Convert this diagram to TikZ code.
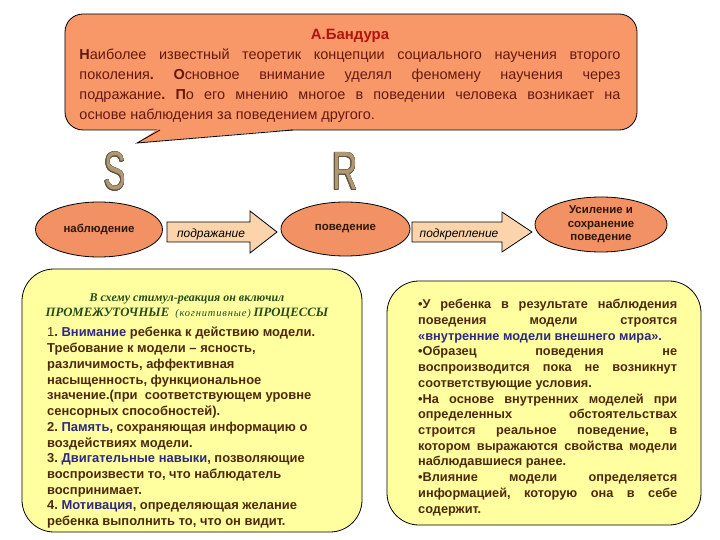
\documentclass[tikz,border=0pt]{standalone}
\usepackage{fontspec}
\setmainfont{Liberation Sans}
\newfontfamily\serifit{Liberation Serif}
\newfontfamily\serifsp[LetterSpace=8]{Liberation Serif}
\usepackage{contour}
\usetikzlibrary{shapes.geometric}
\definecolor{calloutfill}{RGB}{248,152,105}
\definecolor{ellfill}{RGB}{242,146,100}
\definecolor{arrfill}{RGB}{251,212,172}
\definecolor{yfill}{RGB}{255,255,160}
\definecolor{titlered}{RGB}{175,20,15}
\definecolor{bodyred}{RGB}{100,25,15}
\definecolor{txtbrown}{RGB}{78,40,12}
\definecolor{txtdark}{RGB}{45,22,10}
\definecolor{kwblue}{RGB}{45,40,130}
\definecolor{hdrgreen}{RGB}{35,75,25}
\definecolor{letterfill}{RGB}{176,152,112}
\definecolor{letterline}{RGB}{95,82,68}
\contourlength{0.4bp}
\frenchspacing
\begin{document}
\begin{tikzpicture}[x=1bp,y=-1bp,
  boxline/.style={draw=black, line width=0.8bp},
  ellnode/.style={ellipse, boxline, fill=ellfill, inner sep=0pt},
  elltext/.style={font=\fontsize{11.5}{13.6}\selectfont\bfseries, text=txtdark, align=center, inner sep=0pt},
  arrowbox/.style={boxline, fill=arrfill},
  arrtext/.style={font=\fontsize{12}{14}\selectfont\itshape, text=black, inner sep=0pt},
  ybox/.style={boxline, fill=yfill, rounded corners=32bp, inner sep=0pt},
  letter/.style={font=\fontsize{54}{54}\selectfont, inner sep=0pt, anchor=base},
  bodytext/.style={font=\fontsize{13}{15.8}\selectfont\bfseries, text=txtbrown, align=left, inner sep=0pt, anchor=north west}
]
\useasboundingbox (0,0) rectangle (720,540);

% callout
\node[boxline, fill=calloutfill, rounded corners=18bp, minimum width=572bp, minimum height=116bp, inner sep=0pt] (bandura) at (351,72) {};
\fill[calloutfill] (158,129) -- (137,143) -- (296,129) -- cycle;
\draw[line width=0.8bp] (160,130) -- (137,143) -- (293,130);
\node[font=\fontsize{14.5}{20}\selectfont, text=bodyred, align=left, inner sep=0pt, anchor=north] (bandtext) at (350,29.5) {%
\makebox[541bp][c]{\fontsize{15}{20}\selectfont\bfseries\color{titlered}А.Бандура}\\
\makebox[541bp][s]{\textbf{Н}аиболее известный теоретик концепции социального научения второго}\\
\makebox[541bp][s]{поколения\textbf{.} \textbf{О}сновное внимание уделял феномену научения через}\\
\makebox[541bp][s]{подражание\textbf{.} \textbf{П}о его мнению многое в поведении человека возникает на}\\
\makebox[541bp][l]{основе наблюдения за поведением другого.}};

% S and R
\node[letter] (S) at (115,190) {\contour{letterline}{\textcolor{letterfill}{\scalebox{0.6}[1]{S}}}};
\node[letter] (R) at (345,190) {\contour{letterline}{\textcolor{letterfill}{\scalebox{0.66}[1]{R}}}};

% ellipses
\node[ellnode, minimum width=127bp, minimum height=55bp] (obs) at (99,229.5) {};
\node[elltext] (obstext) at (obs) {наблюдение};
\node[ellnode, minimum width=129bp, minimum height=54bp] (beh) at (345.5,229) {};
\node[elltext] (behtext) at (beh) {поведение};
\node[ellnode, minimum width=132bp, minimum height=55bp] (rein) at (601,224.5) {};
\node[elltext] (reintext) at (rein) {Усиление и\\сохранение\\поведение};

% block arrows
\path[arrowbox] (167,222) -- (250,222) -- (250,211) -- (277,232) -- (250,253) -- (250,242) -- (167,242) -- cycle;
\node[arrtext] (imit) at (211,234) {подражание};
\path[arrowbox] (412,222) -- (502,222) -- (502,212) -- (532,232) -- (502,252) -- (502,242) -- (412,242) -- cycle;
\node[arrtext] (reinf) at (459,234) {подкрепление};

% yellow boxes
\node[ybox, minimum width=340bp, minimum height=263bp] (leftbox) at (192,400.5) {};
\node[ybox, minimum width=314bp, minimum height=244bp] (rightbox) at (544,403) {};

\node[font=\serifit\bfseries\itshape\fontsize{12}{15}\selectfont, text=hdrgreen, align=center, inner sep=0pt] (hdr) at (187,306) {В схему стимул-реакция он включил\\{\fontsize{12.8}{15}\selectfont ПРОМЕЖУТОЧНЫЕ}\ \ {\serifsp\mdseries\itshape\fontsize{10.5}{15}\selectfont (когнитивные)} {\fontsize{12.8}{15}\selectfont ПРОЦЕССЫ}};

\node[bodytext] (lefttext) at (47,327) {%
{\mdseries 1}. \textcolor{kwblue}{Внимание} ребенка к действию модели.\\
Требование к модели – ясность,\\
различимость, аффективная\\
насыщенность, функциональное\\
значение.(при\ \ соответствующем уровне\\
сенсорных способностей).\\
2. \textcolor{kwblue}{Память}, сохраняющая информацию о\\
воздействиях модели.\\
3. \textcolor{kwblue}{Двигательные навыки}, позволяющие\\
воспроизвести то, что наблюдатель\\
воспринимает.\\
4. \textcolor{kwblue}{Мотивация}, определяющая желание\\
ребенка выполнить то, что он видит.};

\node[bodytext, font=\fontsize{12.8}{15.8}\selectfont\bfseries] (righttext) at (418,299) {%
\makebox[259bp][s]{•У ребенка в результате наблюдения}\\
\makebox[259bp][s]{поведения модели строятся}\\
\makebox[259bp][l]{\color{kwblue}«внутренние модели внешнего мира».}\\
\makebox[259bp][s]{•Образец поведения не}\\
\makebox[259bp][s]{воспроизводится пока не возникнут}\\
\makebox[259bp][l]{соответствующие условия.}\\
\makebox[259bp][s]{•На основе внутренних моделей при}\\
\makebox[259bp][s]{определенных обстоятельствах}\\
\makebox[259bp][s]{строится реальное поведение, в}\\
\makebox[259bp][s]{котором выражаются свойства модели}\\
\makebox[259bp][l]{наблюдавшиеся ранее.}\\
\makebox[259bp][s]{•Влияние модели определяется}\\
\makebox[259bp][s]{информацией, которую она в себе}\\
\makebox[259bp][l]{содержит.}};
\end{tikzpicture}
\end{document}
